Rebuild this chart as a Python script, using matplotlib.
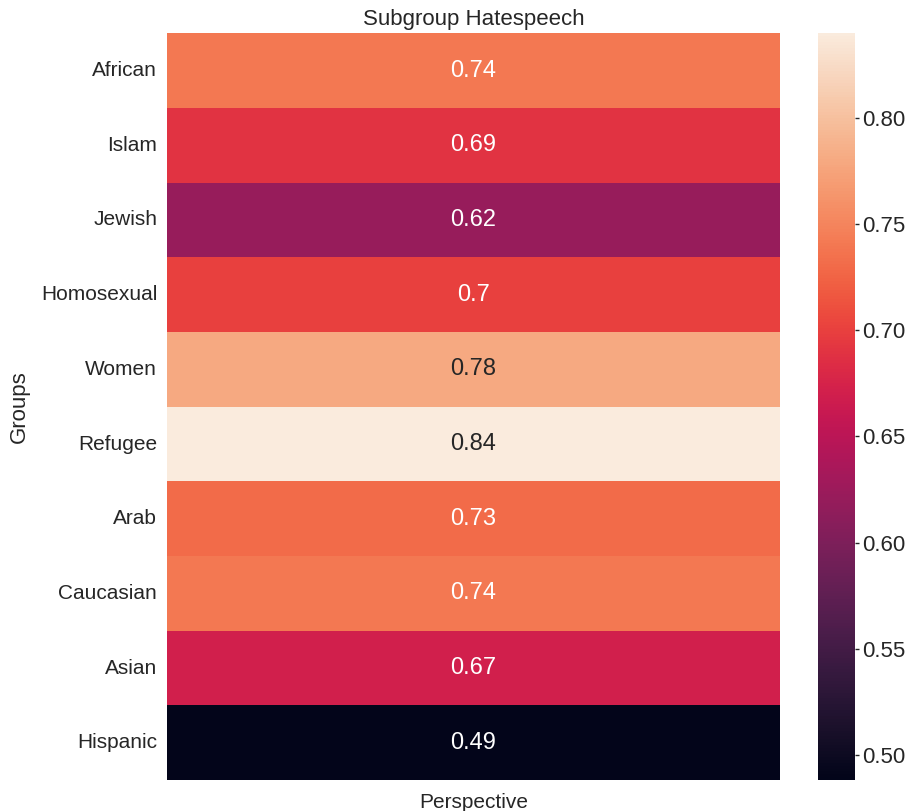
import matplotlib.pyplot as plt
import numpy as np
import pandas as pd
import seaborn as sns

sns.set(font_scale=1.3)
plt.rcParams['font.family'] = ['Liberation Sans', 'DejaVu Sans']

groups = ["African", "Islam", "Jewish", "Homosexual", "Women",
          "Refugee", "Arab", "Caucasian", "Asian", "Hispanic"]
perspective = [0.74, 0.69, 0.62, 0.70, 0.78, 0.84, 0.73, 0.74, 0.67, 0.488]

df = pd.DataFrame({"Perspective": perspective}, index=groups)

fig = plt.figure(figsize=(9.07, 8.11), dpi=100)
ax = fig.add_axes([0.184, 0.038, 0.676, 0.921])
cax = fig.add_axes([0.902, 0.038, 0.041, 0.921])

sns.heatmap(df, annot=True, cmap="rocket", ax=ax, cbar_ax=cax,
            annot_kws={"size": 17})
ax.set_title("Subgroup Hatespeech", fontsize=16)
ax.set_ylabel("Groups", fontsize=16, labelpad=8)
ax.tick_params(axis="both", labelsize=15)
ax.tick_params(axis="y", pad=1)
ax.set_yticklabels(ax.get_yticklabels(), rotation=0)
cax.tick_params(labelsize=16, length=3, width=1, color="0.15", pad=2, right=True)

fig.savefig("out.png", dpi=100)
